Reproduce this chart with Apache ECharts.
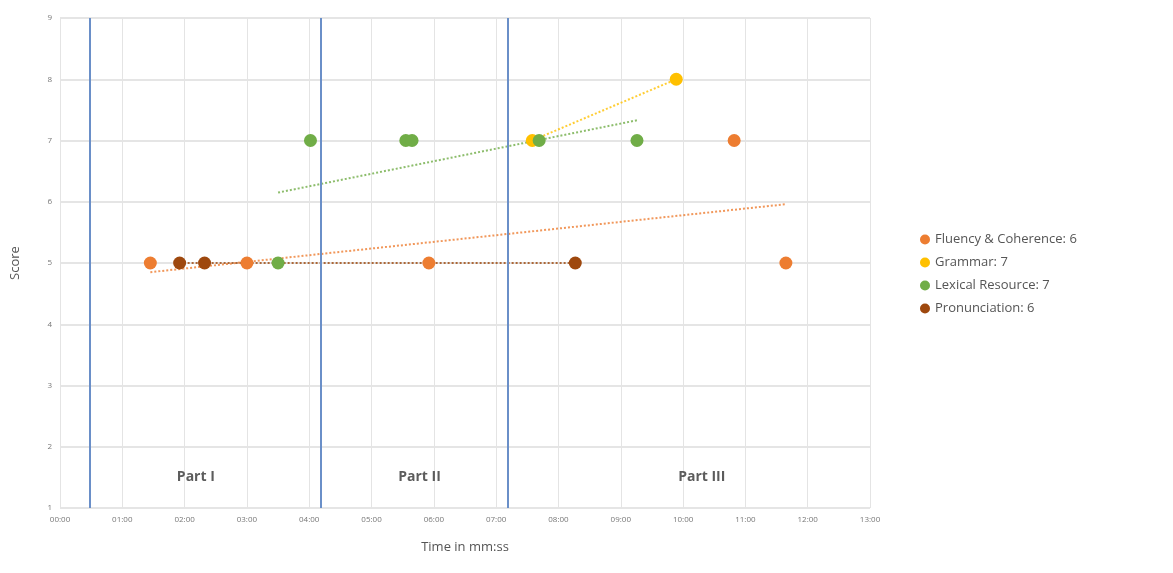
<!DOCTYPE html>
<html><head><meta charset="utf-8">
<script src="https://cdn.jsdelivr.net/npm/echarts@6/dist/echarts.min.js"></script>
<style>html,body{margin:0;padding:0;background:#fff}#c{width:1173px;height:573px}</style>
</head><body><div id="c"></div>
<script>
// times in minutes, scores
const fluency = [[1.45,5],[3.0,5],[5.92,5],[10.82,7],[11.65,5]];
const grammar = [[7.58,7],[9.89,8]];
const lexical = [[3.5,5],[4.02,7],[5.55,7],[5.65,7],[7.69,7],[9.26,7]];
const pronunciation = [[1.92,5],[2.32,5],[8.27,5]];
// trendline endpoints
const fluencyTrend = [[1.45,4.85],[11.65,5.96]];
const grammarTrend = [[7.58,7],[9.89,8]];
const lexicalTrend = [[3.5,6.15],[9.26,7.33]];
const pronTrend = [[1.92,5],[8.27,5]];
const partBoundaries = [0.48, 4.18, 7.19];
const partLabels = [[2.18,1.5,'Part I'],[5.77,1.5,'Part II'],[10.3,1.5,'Part III']];
const names = ['Fluency & Coherence: 6','Grammar: 7','Lexical Resource: 7','Pronunciation: 6'];
const colors = ['#ED7D31','#FFC000','#70AD47','#9E480E'];

const pad = n => (n<10?'0':'')+n;
const scat = (name,data,color)=>({name,type:'scatter',data,symbolSize:13,itemStyle:{color,opacity:1},z:3});
const trend = (data,color)=>({type:'line',data,symbol:'none',silent:true,lineStyle:{color,type:[2,2],width:2,opacity:0.8},z:2});

const chart = echarts.init(document.getElementById('c'));
chart.setOption({
  animation:false,
  textStyle:{fontFamily:'Open Sans'},
  grid:{left:60,right:303,top:18,bottom:65},
  legend:{orient:'vertical',left:915,top:228,itemGap:10,data:names,icon:'circle',itemWidth:10,itemHeight:10,
    textStyle:{color:'#555',fontSize:13}},
  xAxis:{type:'value',min:0,max:13,interval:1,name:'Time in mm:ss',nameLocation:'middle',nameGap:33,
    nameTextStyle:{color:'#555',fontSize:13},
    axisLabel:{formatter:v=>pad(v)+':00',color:'#777',fontSize:8},
    axisLine:{show:false},axisTick:{show:false},
    splitLine:{lineStyle:{color:'#e4e4e4'}}},
  yAxis:{type:'value',min:1,max:9,interval:1,name:'Score',nameLocation:'middle',nameGap:38,
    nameTextStyle:{color:'#555',fontSize:13},
    axisLabel:{color:'#777',fontSize:8},axisLine:{show:false},axisTick:{show:false},
    splitLine:{lineStyle:{color:'#dcdcdc',width:1.5}}},
  series:[
    trend(fluencyTrend,colors[0]),trend(grammarTrend,colors[1]),trend(lexicalTrend,colors[2]),trend(pronTrend,colors[3]),
    scat(names[0],fluency,colors[0]),scat(names[1],grammar,colors[1]),scat(names[2],lexical,colors[2]),scat(names[3],pronunciation,colors[3]),
    {type:'scatter',symbolSize:0,silent:true,data:partLabels.map(p=>({value:[p[0],p[1]],label:{formatter:p[2]}})),
     label:{show:true,position:'inside',color:'#333',fontSize:14,fontWeight:'bold'},
     markLine:{symbol:'none',silent:true,label:{show:false},lineStyle:{color:'#6A8FC8',type:'solid',width:2},
       data:partBoundaries.map(x=>({xAxis:x}))}}
  ]
});
</script></body></html>
